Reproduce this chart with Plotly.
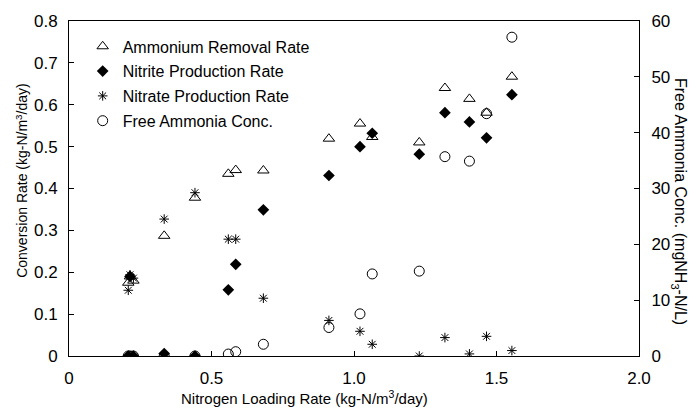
import plotly.graph_objects as go

# Nitrogen loading rate (kg-N/m3/day)
loading = [0.208, 0.214, 0.226, 0.334, 0.442, 0.559, 0.585, 0.682,
           0.912, 1.021, 1.064, 1.229, 1.319, 1.405, 1.465, 1.554]

# Conversion rates (kg-N/m3/day)
ammonium_removal = [0.175, 0.19, 0.18, 0.287, 0.378, 0.435, 0.444, 0.443,
                    0.519, 0.555, 0.523, 0.51, 0.64, 0.614, 0.581, 0.667]
nitrite_prod = [0.0, 0.19, 0.0, 0.006, 0.0, 0.158, 0.219, 0.349,
                0.431, 0.50, 0.532, 0.482, 0.581, 0.559, 0.521, 0.624]
nitrate_prod = [0.157, 0.194, 0.186, 0.327, 0.39, 0.279, 0.279, 0.138,
                0.085, 0.059, 0.028, 0.0, 0.044, 0.005, 0.047, 0.013]

# Free ammonia concentration (mgNH3-N/L)
free_ammonia = [0.0, 0.0, 0.0, 0.0, 0.0, 0.35, 0.77, 2.1,
                5.1, 7.55, 14.7, 15.2, 35.7, 34.9, 43.4, 57.1]

x_tickvals = [0, 0.5, 1.0, 1.5, 2.0]
x_ticktext = ["0", "0.5", "1.0", "1.5", "2.0"]

FONT = "Arial, 'Liberation Sans', sans-serif"

fig = go.Figure()

fig.add_trace(go.Scatter(
    x=loading, y=ammonium_removal, mode="markers", name="Ammonium Removal Rate",
    legendgroup="a",
    marker=dict(symbol="triangle-up-open", size=10, color="black", line=dict(width=1)),
))
fig.add_trace(go.Scatter(
    x=loading, y=nitrite_prod, mode="markers", name="Nitrite Production Rate",
    legendgroup="b",
    marker=dict(symbol="diamond", size=9, color="black"),
))
fig.add_trace(go.Scatter(
    x=loading, y=nitrate_prod, mode="markers", name="Nitrate Production Rate",
    legendgroup="c",
    marker=dict(symbol="asterisk-open", size=8, color="black", line=dict(width=1, color="black")),
))
fig.add_trace(go.Scatter(
    x=loading, y=free_ammonia, mode="markers", name="Free Ammonia Conc.",
    legendgroup="d", yaxis="y2",
    marker=dict(symbol="circle-open", size=10, color="black", line=dict(width=1)),
))

axis_common = dict(
    showgrid=False, zeroline=False, showline=True, linecolor="black", linewidth=1,
    ticks="inside", ticklen=5, tickcolor="black",
    tickfont=dict(size=17, color="black", family=FONT),
)

fig.update_layout(
    width=691, height=409,
    margin=dict(l=69, r=52, t=17, b=53),
    paper_bgcolor="white", plot_bgcolor="white",
    font=dict(family=FONT, color="black"),
    xaxis=dict(range=[0, 2.0], tickvals=x_tickvals, ticktext=x_ticktext,
               mirror=True, ticklabelstandoff=7, **axis_common),
    yaxis=dict(range=[0, 0.8], dtick=0.1, ticklabelstandoff=7, **axis_common),
    yaxis2=dict(range=[0, 60], dtick=10, overlaying="y", side="right",
                ticklabelstandoff=8, **axis_common),
    legend=dict(x=0.024, y=0.975, xanchor="left", yanchor="top",
                bgcolor="rgba(0,0,0,0)", font=dict(size=16, color="black"),
                tracegroupgap=1),
    showlegend=True,
    annotations=[
        dict(text="Nitrogen Loading Rate (kg-N/m<sup>3</sup>/day)", xref="paper", yref="paper",
             x=0.414, y=-0.124, xanchor="center", yanchor="middle", showarrow=False,
             font=dict(size=15)),
        dict(text="Conversion Rate (kg-N/m<sup>3</sup>/day)", xref="paper", yref="paper",
             x=-0.083, y=0.525, xanchor="center", yanchor="middle", showarrow=False,
             textangle=-90, font=dict(size=14)),
        dict(text="Free Ammonia Conc. (mgNH<sub>3</sub>-N/L)", xref="paper", yref="paper",
             x=1.07, y=0.46, xanchor="center", yanchor="middle", showarrow=False,
             textangle=90, font=dict(size=16)),
    ],
)

fig.write_html("out.html", config={"displayModeBar": False},
               post_script="document.body.style.margin='0';")
